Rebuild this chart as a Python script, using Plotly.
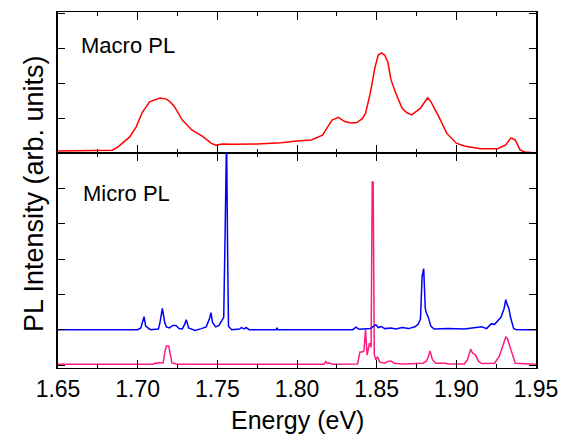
import plotly.graph_objects as go
from plotly.subplots import make_subplots

# Macro PL (top panel)
macro_E = [1.650, 1.680, 1.684, 1.6875, 1.695, 1.699, 1.703, 1.7075, 1.711, 1.714, 1.718, 1.720, 1.723,
           1.728, 1.734, 1.741, 1.746, 1.749, 1.753, 1.760, 1.775, 1.790, 1.800, 1.809, 1.816, 1.822,
           1.826, 1.830, 1.834, 1.8375, 1.841, 1.843, 1.846, 1.849, 1.851, 1.853, 1.855, 1.857, 1.859,
           1.862, 1.866, 1.869, 1.872, 1.875, 1.8775, 1.880, 1.882, 1.884, 1.889, 1.894, 1.900, 1.905,
           1.909, 1.915, 1.926, 1.931, 1.934, 1.935, 1.937, 1.940, 1.943, 1.950]
macro_I = [0.06, 0.06, 0.08, 0.17, 0.46, 0.74, 1.17, 1.46, 1.52, 1.57, 1.54, 1.48, 1.33,
           0.94, 0.66, 0.47, 0.28, 0.22, 0.26, 0.25, 0.26, 0.29, 0.34, 0.37, 0.51, 0.94,
           1.02, 0.90, 0.86, 0.87, 0.98, 1.13, 1.71, 2.46, 2.80, 2.86, 2.80, 2.60, 2.09,
           1.71, 1.28, 1.15, 1.09, 1.18, 1.28, 1.45, 1.58, 1.47, 1.04, 0.56, 0.28, 0.20,
           0.16, 0.12, 0.12, 0.23, 0.42, 0.42, 0.37, 0.09, 0.03, 0.00]

# Micro PL, blue spectrum (bottom panel, offset baseline)
blue_E = [1.650, 1.662, 1.663, 1.664, 1.700, 1.702, 1.703, 1.704, 1.705, 1.7065, 1.708, 1.713, 1.714,
          1.7155, 1.717, 1.718, 1.720, 1.722, 1.724, 1.726, 1.728, 1.7295, 1.7305, 1.732, 1.734, 1.736,
          1.740, 1.743, 1.745, 1.746, 1.747, 1.749, 1.751, 1.753, 1.754, 1.7548, 1.7553, 1.7558, 1.7565,
          1.757, 1.759, 1.764, 1.765, 1.767, 1.768, 1.770, 1.787, 1.7875, 1.788, 1.835, 1.837, 1.839,
          1.846, 1.848, 1.8495, 1.851, 1.853, 1.855, 1.859, 1.862, 1.866, 1.870, 1.874, 1.876, 1.8775,
          1.8785, 1.8795, 1.8805, 1.881, 1.8825, 1.884, 1.886, 1.895, 1.905, 1.914, 1.916, 1.919, 1.922,
          1.924, 1.926, 1.928, 1.930, 1.931, 1.932, 1.933, 1.934, 1.936, 1.938, 1.950]
blue_I = [1.0, 1.0, 0.98, 1.0, 1.0, 1.05, 1.2, 1.37, 1.1, 1.05, 1.0, 1.02, 1.2,
          1.6, 1.2, 1.08, 1.05, 1.12, 1.12, 1.03, 1.02, 1.15, 1.28, 1.05, 1.02, 0.98,
          1.03, 1.08, 1.3, 1.48, 1.2, 1.08, 1.12, 1.25, 1.35, 3.5, 6.5, 6.5, 3.0,
          1.1, 1.0, 1.02, 1.06, 1.02, 1.06, 1.0, 1.0, 1.05, 1.0, 1.0, 1.07, 1.01,
          1.03, 1.1, 1.14, 1.06, 1.09, 1.03, 1.05, 1.02, 1.06, 1.03, 1.08, 1.15, 1.3,
          2.5, 2.73, 1.6, 1.5, 1.34, 1.1, 1.02, 1.03, 1.02, 1.06, 1.08, 1.03, 1.17,
          1.15, 1.25, 1.35, 1.6, 1.85, 1.7, 1.6, 1.35, 1.03, 1.0, 1.0]

# Micro PL, pink spectrum (bottom panel)
pink_E = [1.650, 1.710, 1.711, 1.712, 1.713, 1.716, 1.717, 1.718, 1.7195, 1.7205, 1.7215, 1.723, 1.725,
          1.817, 1.818, 1.819, 1.820, 1.822, 1.838, 1.8395, 1.841, 1.842, 1.843, 1.844, 1.8455, 1.8465,
          1.8472, 1.8478, 1.8485, 1.8495, 1.8505, 1.852, 1.855, 1.857, 1.859, 1.861, 1.866, 1.879, 1.881,
          1.882, 1.8835, 1.885, 1.887, 1.893, 1.895, 1.905, 1.907, 1.909, 1.910, 1.912, 1.914, 1.916,
          1.924, 1.927, 1.929, 1.930, 1.931, 1.932, 1.934, 1.935, 1.937, 1.950]
pink_I = [0.02, 0.02, 0.06, 0.04, 0.07, 0.06, 0.35, 0.54, 0.54, 0.3, 0.06, 0.04, 0.02,
          0.02, 0.11, 0.04, 0.06, 0.02, 0.03, 0.37, 0.37, 0.4, 1.0, 0.28, 0.62, 0.5,
          5.18, 5.18, 0.3, 0.15, 0.23, 0.08, 0.05, 0.1, 0.11, 0.05, 0.03, 0.05, 0.1,
          0.18, 0.4, 0.15, 0.05, 0.05, 0.03, 0.03, 0.15, 0.45, 0.35, 0.28, 0.1, 0.04,
          0.05, 0.25, 0.5, 0.65, 0.79, 0.75, 0.48, 0.3, 0.05, 0.02]

x_ticks = [1.65, 1.70, 1.75, 1.80, 1.85, 1.90, 1.95]
x_ticklabels = ["1.65", "1.70", "1.75", "1.80", "1.85", "1.90", "1.95"]

FONT = "Arial, Liberation Sans, Helvetica, sans-serif"

fig = make_subplots(rows=2, cols=1, shared_xaxes=True, vertical_spacing=0,
                    row_heights=[141, 215])

fig.add_trace(go.Scatter(x=macro_E, y=macro_I, mode="lines", line=dict(color="#ff0000", width=1.5),
                         showlegend=False), row=1, col=1)
fig.add_trace(go.Scatter(x=pink_E, y=pink_I, mode="lines", line=dict(color="#ff1a80", width=1.5),
                         showlegend=False), row=2, col=1)
fig.add_trace(go.Scatter(x=blue_E, y=blue_I, mode="lines", line=dict(color="#0000ff", width=1.5),
                         showlegend=False), row=2, col=1)

xcommon = dict(range=[1.65, 1.95], showline=True, linecolor="black", linewidth=1.3, mirror="ticks",
               ticks="inside", ticklen=8, tickwidth=1.3, tickcolor="black",
               tickvals=x_ticks, ticktext=x_ticklabels,
               minor=dict(ticks="inside", dtick=0.025, tick0=1.65, ticklen=4, tickwidth=1.2, tickcolor="black"),
               showgrid=False, zeroline=False)
fig.update_xaxes(**xcommon)
fig.update_xaxes(showticklabels=False, row=1, col=1)
fig.update_xaxes(showticklabels=True, tickfont=dict(family=FONT, size=23, color="black"), row=2, col=1)

ycommon = dict(showline=True, linecolor="black", linewidth=1.5, mirror="ticks",
               ticks="inside", ticklen=7, tickwidth=1.3, tickcolor="black", dtick=1,
               showticklabels=False, showgrid=False, zeroline=False)
fig.update_yaxes(**ycommon)
fig.update_yaxes(range=[0, 4.03], row=1, col=1)
fig.update_yaxes(range=[-0.085, 6.0], tick0=0, row=2, col=1)

fig.add_annotation(text="Macro PL", xref="paper", yref="paper", x=0.044, y=0.907,
                   xanchor="left", yanchor="middle", showarrow=False,
                   font=dict(family=FONT, size=22, color="black"))
fig.add_annotation(text="Micro PL", xref="paper", yref="paper", x=0.048, y=0.49,
                   xanchor="left", yanchor="middle", showarrow=False,
                   font=dict(family=FONT, size=22, color="black"))
fig.add_annotation(text="PL Intensity (arb. units)", xref="paper", yref="paper", x=-0.05, y=0.489,
                   xanchor="center", yanchor="middle", textangle=-90, showarrow=False,
                   font=dict(family=FONT, size=27, color="black"))
fig.add_annotation(text="Energy (eV)", xref="paper", yref="paper", x=0.5, y=-0.146,
                   xanchor="center", yanchor="middle", showarrow=False,
                   font=dict(family=FONT, size=25, color="black"))

fig.update_layout(width=573, height=437, margin=dict(l=58, r=37, t=12, b=69),
                  plot_bgcolor="white", paper_bgcolor="white")

fig.write_html("out.html")
